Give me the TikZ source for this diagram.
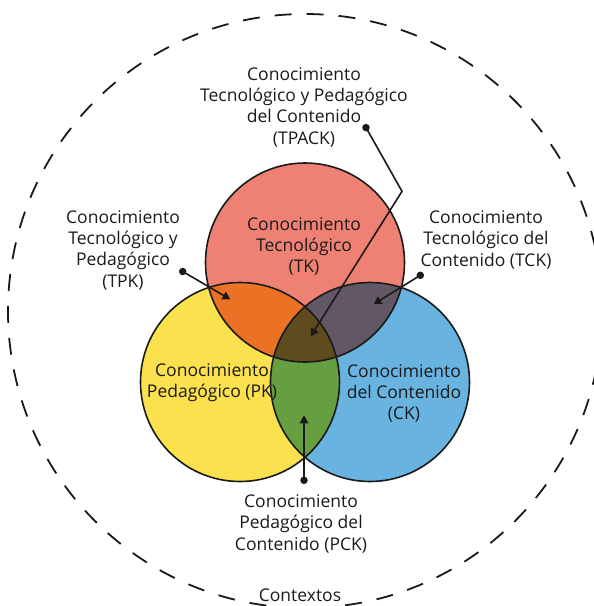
\documentclass[tikz,border=0pt]{standalone}
\usepackage{fontspec}
\setmainfont{Open Sans}
\usetikzlibrary{arrows.meta}
\definecolor{tkred}{HTML}{EF8174}
\definecolor{pkyellow}{HTML}{FBE14D}
\definecolor{ckblue}{HTML}{68B3DF}
\definecolor{tpkorange}{HTML}{EB7125}
\definecolor{tckpurple}{HTML}{625865}
\definecolor{pckgreen}{HTML}{669F40}
\definecolor{tpackbrown}{HTML}{5E4B1E}
\definecolor{ink}{HTML}{1A1A1A}
\begin{document}
\begin{tikzpicture}[x=1pt,y=-1pt,
  lbl/.style={align=center, font=\fontsize{17.5}{21.3}\selectfont, inner sep=0pt, text=ink},
  ring/.style={draw=ink, line width=1.6pt},
  pointer/.style={draw=ink, line width=1.6pt, -{Triangle[length=8pt,width=8.5pt]}},
  dotmark/.style={circle, fill=ink, inner sep=0pt, minimum size=7.5pt},
  context/.style={draw=ink, line width=1.8pt, dash pattern=on 17pt off 15pt}]
\useasboundingbox (0,0) rectangle (594,606);

% centres of the three knowledge domains
\coordinate (ctk) at (305,262.5);
\coordinate (cpk) at (240,382);
\coordinate (cck) at (370,382);
\def\rr{99.5pt}

% surrounding context
\draw[context] (305,311) circle[radius=297pt];

% base discs
\fill[tkred] (ctk) circle[radius=\rr];
\fill[pkyellow] (cpk) circle[radius=\rr];
\fill[ckblue] (cck) circle[radius=\rr];

% PK and CK overlap
\begin{scope}
  \clip (cpk) circle[radius=\rr];
  \fill[pckgreen] (cck) circle[radius=\rr];
\end{scope}

% overlaps with TK
\begin{scope}
  \clip (ctk) circle[radius=\rr];
  \fill[tpkorange] (cpk) circle[radius=\rr];
  \fill[tckpurple] (cck) circle[radius=\rr];
  \clip (cpk) circle[radius=\rr];
  \fill[tpackbrown] (cck) circle[radius=\rr];
\end{scope}

% outlines
\draw[ring] (ctk) circle[radius=\rr];
\draw[ring] (cpk) circle[radius=\rr];
\draw[ring] (cck) circle[radius=\rr];

% labels
\node[lbl] (tpack) at (304,107.3) {Conocimiento\\Tecnológico y Pedagógico\\del Contenido\\(TPACK)};
\node[lbl] (tk) at (304,246.6) {Conocimiento\\Tecnológico\\(TK)};
\node[lbl] (tpk) at (123,250.3) {Conocimiento\\Tecnológico y\\Pedagógico\\(TPK)};
\node[lbl] (tck) at (486,239.7) {Conocimiento\\Tecnológico del\\Contenido (TCK)};
\node[lbl] (pk) at (212,382.9) {Conocimiento\\Pedagógico (PK)};
\node[lbl] (ck) at (404,393.5) {Conocimiento\\del Contenido\\(CK)};
\node[lbl] (pck) at (301,523.8) {Conocimiento\\Pedagógico del\\Contenido (PCK)};
\node[lbl] (ctx) at (300,595.3) {Contextos};

% pointers
\node[dotmark] (dtpack) at (366,127.6) {};
\coordinate (btpack) at (402,191.3);
\coordinate (atpack) at (310.6,336.5);
\draw[pointer] (dtpack.center) -- (btpack) -- (atpack);

\node[dotmark] (dtpk) at (182.7,271.5) {};
\coordinate (atpk) at (230.5,299.5);
\draw[pointer] (dtpk.center) -- (atpk);

\node[dotmark] (dtck) at (420.3,275.3) {};
\coordinate (atck) at (373.5,304.3);
\draw[pointer] (dtck.center) -- (atck);

\node[dotmark] (dpck) at (304,480.3) {};
\coordinate (apck) at (304,415.3);
\draw[pointer] (dpck.center) -- (apck);
\end{tikzpicture}
\end{document}
